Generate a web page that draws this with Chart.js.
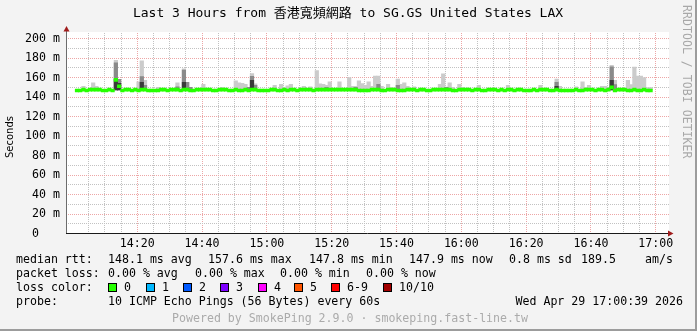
<!DOCTYPE html>
<html>
<head>
<meta charset="utf-8">
<script src="https://cdn.jsdelivr.net/npm/chart.js@4"></script>
<style>
  html, body { margin: 0; padding: 0; background: #f3f3f3; }
  canvas { display: block; }
</style>
</head>
<body>
<canvas id="smoke" width="697" height="331"></canvas>
<script>
// one bucket per minute, left edge is 14:00:54
const startMin = 0.9;
const timeTicks = [20, 40, 60, 80, 100, 120, 140, 160, 180];
const timeLabels = ["14:20", "14:40", "15:00", "15:20", "15:40", "16:00", "16:20", "16:40", "17:00"];

// median rtt per bucket (ms)
const median = [
  146.7, 146.7, 147.6, 146.7, 147.6, 147.6, 147.6, 147.6, 146.7, 146.7, 147.6, 146.7, 157.6, 151.0, 146.7, 147.6, 147.6, 146.7, 147.6, 146.7,
  147.6, 147.6, 146.7, 146.7, 146.7, 146.7, 147.6, 147.6, 146.7, 147.6, 147.6, 147.6, 146.7, 147.6, 147.6, 146.7, 146.7, 147.6, 147.6, 147.6,
  147.6, 147.6, 146.7, 146.7, 147.6, 147.6, 147.6, 146.7, 146.7, 147.6, 146.7, 146.7, 147.6, 146.7, 147.6, 147.6, 146.7, 146.7, 146.7, 146.7,
  147.6, 147.6, 146.7, 146.7, 147.6, 146.7, 147.6, 147.6, 146.7, 147.6, 147.6, 147.6, 147.6, 146.7, 147.6, 147.6, 147.6, 147.6, 147.6, 147.6,
  147.6, 147.6, 147.6, 147.6, 147.6, 147.6, 147.6, 146.7, 146.7, 146.7, 146.7, 147.6, 147.6, 147.6, 146.7, 146.7, 147.6, 147.6, 147.6, 146.7,
  146.7, 146.7, 147.6, 147.6, 147.6, 146.7, 147.6, 147.6, 146.7, 146.7, 147.6, 147.6, 147.6, 147.6, 147.6, 147.6, 146.7, 146.7, 147.6, 147.6,
  147.6, 147.6, 146.7, 147.6, 147.6, 146.7, 146.7, 147.6, 147.6, 147.6, 146.7, 147.6, 146.7, 147.6, 147.6, 146.7, 147.6, 147.6, 146.7, 146.7,
  146.7, 147.6, 146.7, 147.6, 147.6, 147.6, 146.7, 146.7, 147.6, 146.7, 146.7, 146.7, 146.7, 146.7, 147.6, 146.7, 146.7, 147.6, 147.6, 147.6,
  146.7, 147.6, 147.6, 146.7, 147.6, 149.8, 146.7, 147.6, 147.6, 147.6, 146.7, 146.7, 147.6, 146.7, 146.7, 147.6, 146.7, 146.7
];

// smoke: bucket index and top of each grey band (ms)
const smokeBucket = [2, 5, 6, 12, 13, 19, 20, 21, 25, 31, 33, 34, 35, 39, 45, 49, 50, 51, 52, 53, 54, 55, 61, 63, 65, 66, 70, 72, 74, 75,
  76, 77, 78, 81, 84, 85, 86, 87, 88, 89, 90, 91, 92, 93, 94, 96, 97, 99, 100, 101, 102, 104, 112, 113, 114, 115, 116, 118, 119, 124,
  133, 143, 148, 149, 154, 156, 157, 158, 162, 163, 165, 166, 170, 171, 172, 173, 174, 175, 176, 177];
const smokeLight = [151, 154.5, 151, 177.5, 158, 155.5, 177, 157, 150, 154.5, 169, 155, 150, 153, 150, 156.5, 154.5, 154, 153, 150, 164, 153.5, 152, 153, 151.4, 153, 151, 150.4, 167, 153.5,
  153, 152, 155.5, 155.5, 160, 151, 151, 156.5, 153.8, 152, 155.5, 151, 161.5, 161.5, 151, 153, 150, 158.3, 153, 154.5, 151, 150.4, 153, 163.7, 150.3, 154.5, 150, 153, 150, 152,
  152, 152, 158.3, 151, 150.5, 155.5, 150, 152, 151, 151, 172.6, 157, 157.2, 152.8, 170.6, 161.5, 161.5, 160, 149.7, 149.7];
const smokeMid = [null, null, null, 175, 158, null, 161, 152, null, 150.5, 167.5, 155, 150, null, null, null, null, null, null, 150, 161.3, 152, null, null, null, null, null, null, null, null,
  null, 150, null, null, null, null, 150, null, null, null, null, null, null, 153, null, null, null, 152, null, null, null, null, null, null, 150, null, null, null, null, null,
  null, null, 155, null, null, null, null, null, null, null, 171, 152.8, null, null, null, null, null, null, null, null];
const smokeDark = [null, null, null, 158, 154, null, 155, null, null, null, 155, null, null, null, null, null, null, null, null, null, 157, null, null, null, null, null, null, null, null, null,
  null, null, null, null, null, null, null, null, null, null, null, null, null, null, null, null, null, null, null, null, null, null, null, null, null, null, null, null, null, null,
  null, null, 151, null, null, null, null, null, null, null, 157, null, null, null, null, null, null, null, null, null];
const smokeBase = 147.3;

const lossLabels = ["0", "1", "2", "3", "4", "5", "6-9", "10/10"];
const lossColors = ["#26ff00", "#00b8ff", "#0059ff", "#7e00ff", "#ff00ff", "#ff5500", "#ff0000", "#a10000"];

const mono = '"DejaVu Sans Mono", "Liberation Mono", monospace';
const majorGrid = "#eda6a6";
const minorGrid = "#c2c2c2";
const lineHalf = 1.5 / 0.975; // half of a 3px line, in ms

function band(tops) {
  const out = [];
  smokeBucket.forEach((b, k) => {
    if (tops[k] != null) out.push({ x: startMin + b + 0.5, y: [smokeBase, tops[k]] });
  });
  return out;
}

const medianBars = median.map((v, i) => ({ x: startMin + i + 0.5, y: [v - lineHalf, v + lineHalf] }));

const frame = {
  id: "frame",
  beforeDraw(chart) {
    const { ctx, chartArea: a } = chart;
    ctx.save();
    ctx.fillStyle = "#f3f3f3";
    ctx.fillRect(0, 0, chart.width, chart.height);
    ctx.fillStyle = "#ffffff";
    ctx.fillRect(a.left, Math.floor(a.top), a.right - a.left, Math.floor(a.bottom) - Math.floor(a.top));
    ctx.restore();
  },
  beforeDatasetsDraw(chart) {
    // rrdtool style dotted grid, 1px on / 1px off
    const { ctx, chartArea: a, scales } = chart;
    const top = Math.floor(a.top), bottom = Math.floor(a.bottom);
    const left = Math.round(a.left), right = Math.round(a.right);
    ctx.save();
    for (let m = 5; m <= 180; m += 5) {
      const px = Math.round(scales.x.getPixelForValue(m) - 0.5);
      ctx.fillStyle = m % 20 === 0 ? majorGrid : minorGrid;
      for (let y = top + 1; y < bottom; y += 2) ctx.fillRect(px, y, 1, 1);
    }
    for (let v = 10; v <= 200; v += 10) {
      const py = Math.round(scales.y.getPixelForValue(v) - 0.5);
      ctx.fillStyle = v % 20 === 0 ? majorGrid : minorGrid;
      for (let x = left + 1; x < right; x += 2) ctx.fillRect(x, py, 1, 1);
    }
    ctx.restore();
  },
  afterDatasetsDraw(chart) {
    const { ctx, chartArea: a } = chart;
    const y0 = Math.floor(a.bottom) + 0.5;
    ctx.save();
    // y axis + arrow
    ctx.strokeStyle = "#6c6c6c";
    ctx.lineWidth = 1;
    ctx.beginPath();
    ctx.moveTo(a.left - 0.5, y0);
    ctx.lineTo(a.left - 0.5, a.top - 2);
    ctx.stroke();
    ctx.fillStyle = "#a01c1c";
    ctx.beginPath();
    ctx.moveTo(a.left - 0.5, a.top - 6.5);
    ctx.lineTo(a.left - 3.5, a.top - 1);
    ctx.lineTo(a.left + 2.5, a.top - 1);
    ctx.closePath();
    ctx.fill();
    // x axis + arrow
    ctx.strokeStyle = "#1a1a1a";
    ctx.beginPath();
    ctx.moveTo(a.left - 1, y0);
    ctx.lineTo(a.right, y0);
    ctx.stroke();
    ctx.fillStyle = "#a01c1c";
    ctx.beginPath();
    ctx.moveTo(a.right - 1, y0 - 3);
    ctx.lineTo(a.right + 4.5, y0);
    ctx.lineTo(a.right - 1, y0 + 3);
    ctx.closePath();
    ctx.fill();
    ctx.restore();
  },
  afterDraw(chart) {
    const ctx = chart.ctx;
    ctx.save();
    ctx.fillStyle = "#000";
    ctx.textBaseline = "middle";
    ctx.textAlign = "center";
    ctx.font = '13px ' + mono + ', "Noto Sans CJK TC"';
    ctx.fillText("Last 3 Hours from 香港寬頻網路 to SG.GS United States LAX", 348, 14);

    ctx.save();
    ctx.translate(10.5, 137);
    ctx.rotate(-Math.PI / 2);
    ctx.font = '10px "DejaVu Sans"';
    ctx.fillText("Seconds", 0, 0);
    ctx.restore();

    ctx.save();
    ctx.translate(686, 5);
    ctx.rotate(Math.PI / 2);
    ctx.textAlign = "left";
    ctx.fillStyle = "#a8a8a8";
    ctx.font = "11.6px " + mono;
    ctx.fillText("RRDTOOL / TOBI OETIKER", 0, 0);
    ctx.restore();

    ctx.textAlign = "left";
    ctx.font = "11.6px " + mono;
    const rows = [
      [259.5, [["median rtt:", 16], ["148.1 ms avg", 108], ["157.6 ms max", 208], ["147.8 ms min", 309],
               ["147.9 ms now", 409], ["0.8 ms sd", 509], ["189.5", 581], ["am/s", 645]]],
      [273.5, [["packet loss:", 16], ["0.00 % avg", 108], ["0.00 % max", 195], ["0.00 % min", 280], ["0.00 % now", 366]]],
      [287.5, [["loss color:", 16]]],
      [301.5, [["probe:", 16], ["10 ICMP Echo Pings (56 Bytes) every 60s", 108]]]
    ];
    rows.forEach(([y, items]) => items.forEach(([t, x]) => ctx.fillText(t, x, y)));

    const swX = [108, 146, 183, 220, 258, 294, 331, 383];
    lossLabels.forEach((l, k) => {
      ctx.fillStyle = "#000";
      ctx.fillRect(swX[k], 283, 9, 9);
      ctx.fillStyle = lossColors[k];
      ctx.fillRect(swX[k] + 1, 284, 7, 7);
      ctx.fillStyle = "#000";
      ctx.fillText(l, swX[k] + 16, 287.5);
    });

    ctx.textAlign = "right";
    ctx.fillText("Wed Apr 29 17:00:39 2026", 683, 301.5);

    ctx.textAlign = "center";
    ctx.fillStyle = "#ababab";
    ctx.fillText("Powered by SmokePing 2.9.0 · smokeping.fast-line.tw", 350, 318.5);

    ctx.fillStyle = "#9c9c9c";
    ctx.fillRect(chart.width - 2, 0, 2, chart.height);
    ctx.fillRect(0, chart.height - 2, chart.width, 2);
    ctx.restore();
  }
};

const barCommon = {
  type: "bar",
  grouped: false,
  barThickness: 600 / 180 + 0.2,
  borderWidth: 0,
  borderSkipped: false
};

new Chart(document.getElementById("smoke"), {
  data: {
    datasets: [
      Object.assign({ label: "median", data: medianBars, backgroundColor: "#26ff00", order: 0 }, barCommon),
      Object.assign({ label: "dark", data: band(smokeDark), backgroundColor: "#3a3a3a", order: 1 }, barCommon),
      Object.assign({ label: "mid", data: band(smokeMid), backgroundColor: "#8a8a8a", order: 2 }, barCommon),
      Object.assign({ label: "light", data: band(smokeLight), backgroundColor: "#cbcbcb", order: 3 }, barCommon)
    ]
  },
  options: {
    responsive: false,
    devicePixelRatio: 1,
    animation: false,
    events: [],
    layout: { padding: { left: 0, top: 32.5, right: 28, bottom: 0 } },
    plugins: { legend: { display: false }, tooltip: { enabled: false } },
    scales: {
      x: {
        type: "linear",
        min: startMin,
        max: startMin + 180.6,
        afterFit: (s) => { s.height = 97.5; },
        afterBuildTicks: (s) => {
          const t = [];
          for (let m = 5; m <= 180; m += 5) t.push({ value: m });
          s.ticks = t;
        },
        grid: { display: false, drawTicks: false },
        border: { display: false },
        ticks: {
          autoSkip: false,
          maxRotation: 0,
          padding: 4,
          color: "#000",
          font: { family: mono, size: 11.6 },
          callback: (v) => {
            const k = timeTicks.indexOf(v);
            return k >= 0 ? timeLabels[k] : "";
          }
        }
      },
      y: {
        type: "linear",
        min: 0,
        max: 201 / 0.975,
        afterFit: (s) => { s.width = 67; },
        afterBuildTicks: (s) => {
          const t = [];
          for (let v = 0; v <= 200; v += 10) t.push({ value: v });
          s.ticks = t;
        },
        grid: { display: false, drawTicks: false },
        border: { display: false },
        ticks: {
          padding: 7,
          color: "#000",
          font: { family: mono, size: 11.6 },
          callback: (v) => (v % 20 !== 0 ? "" : v === 0 ? "0   " : v + " m")
        }
      }
    }
  },
  plugins: [frame]
});
</script>
</body>
</html>
